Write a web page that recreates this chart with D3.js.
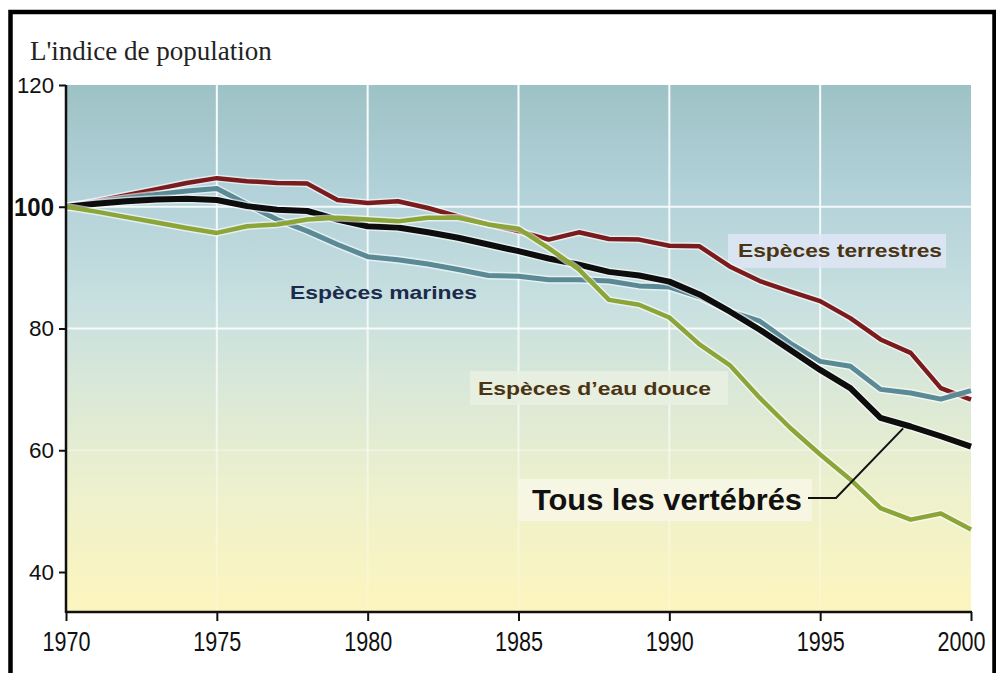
<!DOCTYPE html>
<html>
<head>
<meta charset="utf-8">
<script src="https://cdn.jsdelivr.net/npm/d3@7"></script>
<style>
  body { margin: 0; background: #fff; }
  svg { display: block; }
</style>
</head>
<body>
<svg id="chart"></svg>
<script>
// years on the x axis
const years = [1970, 1971, 1972, 1973, 1974, 1975, 1976, 1977, 1978, 1979,
               1980, 1981, 1982, 1983, 1984, 1985, 1986, 1987, 1988, 1989,
               1990, 1991, 1992, 1993, 1994, 1995, 1996, 1997, 1998, 1999, 2000]

// population index
const terrestres = [100, 100.9, 101.9, 102.9, 103.9, 104.7, 104.2, 103.9, 103.8, 101.1,
                    100.6, 100.9, 99.8, 98.4, 97.1, 96.0, 94.6, 95.8, 94.7, 94.6,
                    93.6, 93.5, 90.2, 87.8, 86.1, 84.5, 81.7, 78.2, 76.0, 70.2, 68.3]
const marines = [100, 100.7, 101.4, 102.0, 102.6, 103.0, 100.4, 97.9, 96.0, 93.8,
                 91.8, 91.3, 90.6, 89.7, 88.7, 88.6, 88.0, 88.0, 87.8, 87.0,
                 86.8, 85.2, 82.8, 81.2, 77.6, 74.6, 73.8, 70.0, 69.4, 68.4, 69.8]
const douce = [100, 99.2, 98.3, 97.4, 96.5, 95.7, 96.8, 97.1, 97.9, 98.2,
               97.9, 97.6, 98.2, 98.2, 97.1, 96.4, 93.2, 89.7, 84.7, 83.9,
               81.8, 77.4, 74.0, 68.6, 63.7, 59.3, 55.2, 50.5, 48.6, 49.6, 47.0]
const vertebres = [100, 100.5, 100.9, 101.2, 101.3, 101.1, 100.1, 99.5, 99.3, 97.9,
                   96.8, 96.6, 95.8, 94.9, 93.8, 92.7, 91.5, 90.5, 89.3, 88.7,
                   87.7, 85.6, 82.8, 79.8, 76.5, 73.2, 70.2, 65.3, 63.9, 62.3, 60.6]

const yTicks = [40, 60, 80, 100, 120]
const xTicks = [1970, 1975, 1980, 1985, 1990, 1995, 2000]

const W = 996, H = 673
const pLeft = 66, pRight = 971, pTop = 85, pBottom = 612

const svg = d3.select('#chart').attr('width', W).attr('height', H)

const x = d3.scaleLinear().domain([1970, 2000]).range([pLeft, pRight])
const y = d3.scaleLinear().domain([40, 120]).range([572, pTop])

// background gradient of the plot
const defs = svg.append('defs')
const bg = defs.append('linearGradient').attr('id', 'bg')
    .attr('x1', 0).attr('y1', 0).attr('x2', 0).attr('y2', 1)
const bgStops = [[0, '#9dc2c5'], [0.2, '#b2d1d9'], [0.42, '#c8e0e0'],
                 [0.6, '#dce9d6'], [0.78, '#eef1cc'], [1, '#fdf5be']]
bgStops.forEach(s => bg.append('stop').attr('offset', s[0]).attr('stop-color', s[1]))

const gridFade = defs.append('linearGradient').attr('id', 'gridFade')
    .attr('gradientUnits', 'userSpaceOnUse')
    .attr('x1', 0).attr('y1', pTop).attr('x2', 0).attr('y2', pBottom)
gridFade.append('stop').attr('offset', 0).attr('stop-color', '#fff').attr('stop-opacity', 0.95)
gridFade.append('stop').attr('offset', 0.55).attr('stop-color', '#fff').attr('stop-opacity', 0.7)
gridFade.append('stop').attr('offset', 1).attr('stop-color', '#fff').attr('stop-opacity', 0.15)

svg.append('rect')
    .attr('x', pLeft).attr('y', pTop)
    .attr('width', pRight - pLeft).attr('height', pBottom - pTop)
    .attr('fill', 'url(#bg)')

// grid
svg.append('g').selectAll('line')
    .data(xTicks.slice(1, -1))
    .join('line')
    .attr('x1', d => x(d)).attr('x2', d => x(d))
    .attr('y1', pTop).attr('y2', pBottom)
    .attr('stroke', 'url(#gridFade)')
    .attr('stroke-width', 2)

svg.append('g').selectAll('line')
    .data([100, 80, 60])
    .join('line')
    .attr('x1', pLeft).attr('x2', pRight)
    .attr('y1', d => y(d)).attr('y2', d => y(d))
    .attr('stroke', '#fff')
    .attr('stroke-opacity', d => d == 60 ? 0.35 : 0.85)
    .attr('stroke-width', 2)

// label boxes
const boxes = [
    {x: 728, y: 234, w: 218, h: 34, fill: '#dfe6f6'},
    {x: 470, y: 371, w: 258, h: 34, fill: '#e9f0e2'},
    {x: 518, y: 479, w: 294, h: 42, fill: '#f7f7e6'}
]
svg.append('g').selectAll('rect')
    .data(boxes)
    .join('rect')
    .attr('x', d => d.x).attr('y', d => d.y)
    .attr('width', d => d.w).attr('height', d => d.h)
    .attr('fill', d => d.fill)
    .attr('opacity', 0.85)

// lines
const series = [
    {name: 'terrestres', values: terrestres, color: '#7a1b1d', width: 4.5},
    {name: 'marines', values: marines, color: '#5b8a97', width: 5},
    {name: 'vertebres', values: vertebres, color: '#0d0d0d', width: 6},
    {name: 'douce', values: douce, color: '#8ba538', width: 4.5}
]

const line = d3.line()
    .x((d, i) => x(years[i]))
    .y(d => y(d))

const lines = svg.append('g')
series.forEach(s => {
    lines.append('path')
        .attr('d', line(s.values))
        .attr('fill', 'none')
        .attr('stroke', '#fff')
        .attr('stroke-opacity', 0.6)
        .attr('stroke-width', s.width + 3)
        .attr('stroke-linejoin', 'round')
    lines.append('path')
        .attr('d', line(s.values))
        .attr('fill', 'none')
        .attr('stroke', s.color)
        .attr('stroke-width', s.width)
        .attr('stroke-linejoin', 'round')
})

// leader for "Tous les vertébrés"
svg.append('path')
    .attr('d', d3.line()([[808, 498], [836, 498], [x(1997.75), y(63.6)]]))
    .attr('fill', 'none')
    .attr('stroke', '#111')
    .attr('stroke-width', 2)

// series labels
const labels = [
    {text: 'Espèces terrestres', x: 738, y: 257, size: 19, len: 204, color: '#4a3412'},
    {text: 'Espèces marines', x: 290, y: 299, size: 19, len: 187, color: '#1c2a4c'},
    {text: 'Espèces d\u2019eau douce', x: 478, y: 395, size: 19, len: 233, color: '#4a3412'},
    {text: 'Tous les vertébrés', x: 532, y: 510, size: 30, len: 270, color: '#111'}
]
svg.append('g').selectAll('text')
    .data(labels)
    .join('text')
    .attr('x', d => d.x).attr('y', d => d.y)
    .attr('textLength', d => d.len)
    .attr('lengthAdjust', 'spacingAndGlyphs')
    .attr('font-family', 'Arial, "Liberation Sans", sans-serif')
    .attr('font-weight', 'bold')
    .attr('font-size', d => d.size)
    .attr('fill', d => d.color)
    .text(d => d.text)

// axes
const yAxis = svg.append('g')
    .attr('transform', `translate(${pLeft},0)`)
    .call(d3.axisLeft(y).tickValues(yTicks).tickSize(7).tickSizeOuter(0))
yAxis.select('.domain').remove()
yAxis.selectAll('line').attr('stroke', '#111').attr('stroke-width', 2)
yAxis.selectAll('text')
    .attr('font-family', 'Arial, "Liberation Sans", sans-serif')
    .attr('font-size', d => d == 100 ? 26 : 22)
    .attr('font-weight', d => d == 100 ? 'bold' : 'normal')
    .attr('textLength', d => d == 100 ? 40 : (d == 120 ? 37 : 25))
    .attr('lengthAdjust', 'spacingAndGlyphs')
    .attr('fill', '#111')
    .attr('x', -12)

const xAxis = svg.append('g')
    .attr('transform', `translate(0,${pBottom})`)
    .call(d3.axisBottom(x).tickValues(xTicks).tickFormat(d3.format('d')).tickSize(9).tickSizeOuter(0))
xAxis.select('.domain').remove()
xAxis.selectAll('line').attr('stroke', '#111').attr('stroke-width', 2)
xAxis.selectAll('text')
    .attr('font-family', 'Arial, "Liberation Sans", sans-serif')
    .attr('font-size', 27)
    .attr('textLength', 48)
    .attr('lengthAdjust', 'spacingAndGlyphs')
    .attr('fill', '#111')
    .attr('y', 20)
// the last label sits a little left so it stays inside the frame
xAxis.selectAll('.tick').filter(d => d == 2000).select('text').attr('x', -10)

svg.append('line')
    .attr('x1', pLeft).attr('x2', pLeft).attr('y1', pTop).attr('y2', pBottom + 1)
    .attr('stroke', '#111').attr('stroke-width', 2.5)
svg.append('line')
    .attr('x1', pLeft).attr('x2', pRight + 1).attr('y1', pBottom).attr('y2', pBottom)
    .attr('stroke', '#111').attr('stroke-width', 2.5)

// title
svg.append('text')
    .attr('x', 30).attr('y', 60)
    .attr('font-family', '"Liberation Serif", "Times New Roman", serif')
    .attr('font-size', 27)
    .attr('fill', '#222')
    .text("L'indice de population")

// outer frame
svg.append('path')
    .attr('d', `M10.5,${H + 5} V12 H994.5 V${H + 5}`)
    .attr('fill', 'none')
    .attr('stroke', '#000')
    .attr('stroke-width', 4.5)
</script>
</body>
</html>
